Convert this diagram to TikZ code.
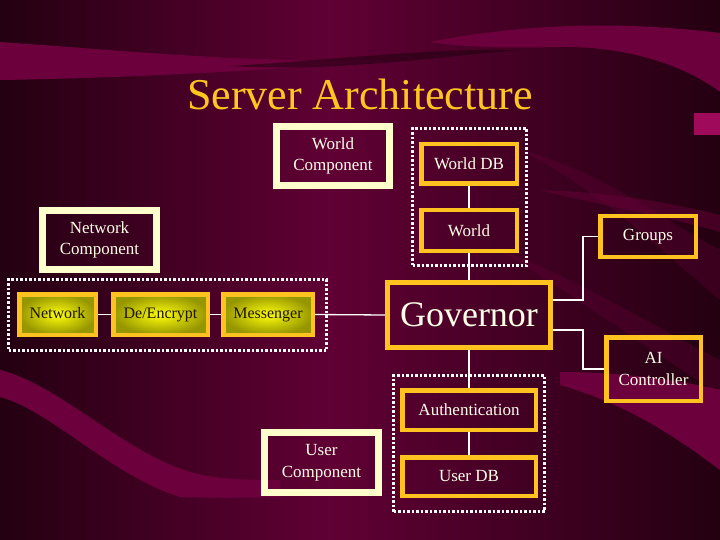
\documentclass[tikz,border=0pt]{standalone}
\usepackage{fontspec}
\setmainfont{Liberation Serif}
\usetikzlibrary{calc}
\pgfdeclarelayer{bg}
\pgfdeclarelayer{edges}
\pgfsetlayers{bg,edges,main}
\definecolor{bgmid}{RGB}{96,0,52}
\definecolor{bgdark}{RGB}{36,0,17}
\definecolor{swoosh}{RGB}{108,0,60}
\definecolor{gold}{RGB}{255,194,30}
\definecolor{cream}{RGB}{255,255,204}
\definecolor{txt}{RGB}{255,255,232}
\definecolor{ylin}{RGB}{255,255,10}
\definecolor{ylout}{RGB}{150,150,0}
\definecolor{darktxt}{RGB}{30,20,0}
\definecolor{titlecol}{RGB}{255,198,30}
\definecolor{brightmag}{RGB}{160,10,90}
\tikzset{
  compbox/.style={draw=cream, line width=7pt, inner sep=0pt, text=txt, align=center,
    font=\fontsize{17}{21.5}\selectfont},
  goldbox/.style={draw=gold, line width=4.5pt, inner sep=0pt, text=txt, align=center,
    font=\fontsize{17}{21.5}\selectfont},
  yelbox/.style={draw=gold, line width=4.5pt, inner sep=0pt, text=darktxt,
    inner color=ylin, outer color=ylout, font=\fontsize{16}{19}\selectfont,
    text height=11pt, text depth=3pt},
  dotbox/.style={draw=white, line width=3pt, dash pattern=on 2.5pt off 2pt, inner sep=0pt},
  link/.style={draw=white, line width=1.3pt},
  swooshfill/.style={fill=swoosh},
}
\begin{document}
\begin{tikzpicture}[x=1pt,y=-1pt]
\useasboundingbox (0,0) rectangle (720,540);
\begin{pgfonlayer}{bg}
  \shade[left color=bgdark, right color=bgmid] (0,0) rectangle (330,540);
  \shade[left color=bgmid, right color=bgdark] (330,0) rectangle (720,540);
  % top-left swoosh
  \fill[swooshfill] (0,42) .. controls (120,50) and (250,64) .. (390,60)
        .. controls (250,72) and (120,78) .. (0,80) -- cycle;
  % dark stripe under top swoosh
  \fill[bgdark, opacity=0.6] (230,66) .. controls (330,60) and (430,48) .. (520,50)
        .. controls (430,58) and (330,72) .. (230,66) -- cycle;
  % top-right swoosh
  \fill[swooshfill] (430,42) .. controls (500,28) and (600,18) .. (720,33)
        -- (720,92) .. controls (680,62) and (620,46) .. (560,47)
        .. controls (510,48) and (470,48) .. (430,42) -- cycle;
  % bright mark at right edge
  \fill[brightmag] (694,113) rectangle (720,135);
  % soft diagonal streaks right middle
  \fill[swooshfill, opacity=0.3] (520,150) .. controls (600,170) and (680,230) .. (720,250)
        -- (720,300) .. controls (660,250) and (600,190) .. (520,150) -- cycle;
  \fill[swooshfill, opacity=0.3] (500,250) .. controls (580,280) and (660,330) .. (720,360)
        -- (720,395) .. controls (650,350) and (580,300) .. (500,250) -- cycle;
  \fill[swooshfill, opacity=0.45] (540,190) .. controls (600,192) and (660,200) .. (720,215)
        -- (720,232) .. controls (660,215) and (600,205) .. (540,190) -- cycle;
  % lower-right swoosh
  \fill[swooshfill] (560,372) .. controls (620,372) and (680,380) .. (720,390)
        -- (720,470) .. controls (680,440) and (630,405) .. (560,385) -- cycle;
  % lower-left swoosh
  \fill[swooshfill] (0,370) .. controls (60,385) and (120,450) .. (190,472)
        .. controls (220,480) and (250,480) .. (280,480)
        -- (280,497) .. controls (240,498) and (210,498) .. (180,497)
        .. controls (110,475) and (50,410) .. (0,397) -- cycle;
\end{pgfonlayer}

% title
\node[anchor=base, text=titlecol, font=\fontsize{44}{48}\selectfont] (title) at (360,110) {Server Architecture};

% dotted group boxes
\node[dotbox, minimum width=114pt, minimum height=137pt] (dbtop) at (469.5,197) {};
\node[dotbox, minimum width=318pt, minimum height=71pt] (dbleft) at (167.5,315) {};
\node[dotbox, minimum width=151pt, minimum height=136pt] (dbbot) at (469,443.5) {};

% component boxes
\node[compbox, minimum width=113pt, minimum height=59pt] (wc) at (333,156) {World\\Component};
\node[compbox, minimum width=114pt, minimum height=59pt] (nc) at (99.5,240) {Network\\Component};
\node[compbox, minimum width=114pt, minimum height=60pt] (uc) at (321.5,462.5) {User\\Component};

% gold boxes
\node[goldbox, minimum width=95.5pt, minimum height=39.5pt] (wdb) at (469,164) {World DB};
\node[goldbox, minimum width=95.5pt, minimum height=40.5pt] (world) at (469,230.5) {World};
\node[goldbox, minimum width=95.5pt, minimum height=40.5pt] (groups) at (648,236.5) {Groups};
\node[goldbox, line width=5pt, minimum width=163pt, minimum height=65pt,
      font=\fontsize{36}{40}\selectfont] (gov) at (469,315) {Governor};
\node[goldbox, minimum width=94.5pt, minimum height=63.5pt] (ai) at (653.5,369) {AI\\Controller};
\node[goldbox, minimum width=133.5pt, minimum height=39.5pt] (auth) at (469,410) {Authentication};
\node[goldbox, minimum width=133.5pt, minimum height=38.5pt] (udb) at (469,476.5) {User DB};

% yellow boxes
\node[yelbox, minimum width=76.5pt, minimum height=40.5pt] (net) at (57.5,314.5) {Network};
\node[yelbox, minimum width=94.5pt, minimum height=40.5pt] (enc) at (160.5,314.5) {De/Encrypt};
\node[yelbox, minimum width=89.5pt, minimum height=40.5pt] (msg) at (268,314.5) {Messenger};

% connectors
\coordinate (govup) at ($(gov.east)+(0,-15)$);
\coordinate (govdn) at ($(gov.east)+(0,15)$);
\coordinate (jogup) at (583,300);
\coordinate (jogdn) at (583,330);
\begin{pgfonlayer}{edges}
  \draw[link] (wdb.south) -- (world.north);
  \draw[link] (world.south) -- (gov.north);
  \draw[link] (net.east) -- (enc.west);
  \draw[link] (enc.east) -- (msg.west);
  \draw[link] (msg.east) -- (gov.west);
  \draw[link] (govup) -- (jogup) |- (groups.west);
  \draw[link] (govdn) -- (jogdn) |- (ai.west);
  \draw[link] (gov.south) -- (auth.north);
  \draw[link] (auth.south) -- (udb.north);
\end{pgfonlayer}
\end{tikzpicture}
\end{document}
